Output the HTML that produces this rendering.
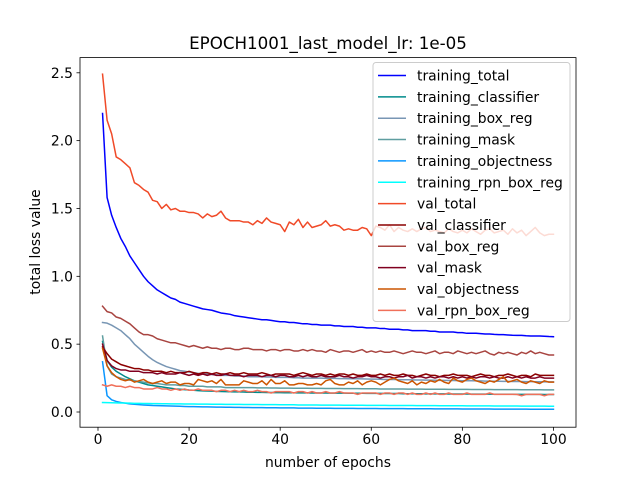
<!DOCTYPE html>
<html><head><meta charset="utf-8"><style>
html,body{margin:0;padding:0;background:#fff;}
svg{display:block;font-family:"DejaVu Sans","Liberation Sans",sans-serif;}
</style></head><body>
<svg id="chart" width="640" height="480" viewBox="0 0 640 480" xmlns="http://www.w3.org/2000/svg">
<rect x="0" y="0" width="640" height="480" fill="#fff"/>
<text x="328" y="49" font-size="16.7" text-anchor="middle">EPOCH1001_last_model_lr: 1e-05</text>
<text x="328" y="467" font-size="13.9" text-anchor="middle">number of epochs</text>
<text x="0" y="0" font-size="13.9" text-anchor="middle" transform="translate(40,242) rotate(-90)">total loss value</text>
<g id="plot"></g>
<g id="axes"></g>
<g id="legend"></g>
</svg>
<script>
const xTicks=[0,20,40,60,80,100];
const yTicks=[0.0,0.5,1.0,1.5,2.0,2.5];
const yTickLabels=["0.0","0.5","1.0","1.5","2.0","2.5"];
const seriesNames=["training_total","training_classifier","training_box_reg","training_mask","training_objectness","training_rpn_box_reg","val_total","val_classifier","val_box_reg","val_mask","val_objectness","val_rpn_box_reg"];
const seriesColors=["#0000ff","#008b8b","#7896b4","#5f9ea0","#0a96ff","#00ffff","#f04a28","#8b0000","#a84440","#800020","#cc5500","#f0705a"];
const training_total=[2.20,1.58,1.45,1.36,1.28,1.22,1.15,1.10,1.05,1.00,0.96,0.93,0.90,0.88,0.86,0.84,0.83,0.81,0.80,0.79,0.78,0.77,0.76,0.755,0.75,0.74,0.73,0.725,0.72,0.71,0.705,0.70,0.695,0.69,0.685,0.68,0.68,0.675,0.67,0.665,0.665,0.66,0.66,0.655,0.65,0.65,0.645,0.645,0.64,0.64,0.64,0.635,0.635,0.63,0.63,0.63,0.625,0.625,0.62,0.62,0.62,0.615,0.615,0.61,0.61,0.61,0.605,0.605,0.60,0.60,0.60,0.60,0.595,0.595,0.59,0.59,0.59,0.59,0.585,0.585,0.58,0.58,0.58,0.578,0.575,0.575,0.572,0.57,0.57,0.568,0.566,0.565,0.565,0.562,0.56,0.56,0.56,0.558,0.556,0.555];
const training_classifier=[0.52,0.38,0.33,0.30,0.28,0.26,0.245,0.23,0.22,0.21,0.20,0.195,0.19,0.185,0.18,0.175,0.17,0.168,0.165,0.162,0.16,0.158,0.156,0.155,0.154,0.152,0.151,0.15,0.149,0.148,0.148,0.147,0.146,0.146,0.145,0.145,0.144,0.144,0.143,0.143,0.142,0.142,0.142,0.141,0.141,0.141,0.14,0.14,0.14,0.14,0.139,0.139,0.139,0.139,0.138,0.138,0.138,0.138,0.137,0.137,0.137,0.137,0.136,0.136,0.136,0.136,0.135,0.135,0.135,0.135,0.135,0.134,0.134,0.134,0.134,0.134,0.133,0.133,0.133,0.133,0.133,0.132,0.132,0.132,0.132,0.132,0.131,0.131,0.131,0.131,0.131,0.13,0.13,0.13,0.13,0.13,0.13,0.129,0.129,0.129];
const training_box_reg=[0.66,0.655,0.64,0.62,0.60,0.57,0.54,0.50,0.47,0.44,0.41,0.385,0.365,0.35,0.335,0.325,0.315,0.305,0.30,0.295,0.29,0.285,0.28,0.28,0.275,0.275,0.27,0.27,0.27,0.265,0.265,0.265,0.26,0.26,0.26,0.26,0.258,0.258,0.255,0.255,0.255,0.255,0.252,0.252,0.25,0.25,0.25,0.25,0.25,0.248,0.248,0.248,0.246,0.246,0.245,0.245,0.245,0.244,0.243,0.242,0.242,0.241,0.24,0.24,0.24,0.239,0.238,0.238,0.237,0.236,0.236,0.235,0.235,0.234,0.233,0.233,0.232,0.232,0.231,0.23,0.23,0.23,0.229,0.229,0.228,0.228,0.227,0.227,0.226,0.226,0.225,0.225,0.225,0.224,0.224,0.223,0.223,0.222,0.222,0.222];
const training_mask=[0.56,0.34,0.28,0.26,0.25,0.24,0.235,0.23,0.225,0.22,0.215,0.21,0.21,0.205,0.20,0.20,0.20,0.195,0.195,0.19,0.19,0.19,0.19,0.185,0.185,0.185,0.185,0.18,0.18,0.18,0.18,0.18,0.18,0.18,0.178,0.178,0.178,0.177,0.177,0.176,0.176,0.176,0.175,0.175,0.175,0.175,0.174,0.174,0.174,0.173,0.173,0.173,0.173,0.172,0.172,0.172,0.172,0.171,0.171,0.171,0.171,0.17,0.17,0.17,0.17,0.17,0.17,0.169,0.169,0.169,0.169,0.168,0.168,0.168,0.168,0.168,0.167,0.167,0.167,0.167,0.167,0.166,0.166,0.166,0.166,0.166,0.165,0.165,0.165,0.165,0.165,0.165,0.164,0.164,0.164,0.164,0.164,0.163,0.163,0.163];
const training_objectness=[0.37,0.12,0.09,0.078,0.07,0.065,0.06,0.057,0.054,0.052,0.05,0.048,0.047,0.046,0.045,0.044,0.043,0.042,0.041,0.04,0.04,0.039,0.038,0.038,0.037,0.036,0.036,0.035,0.035,0.034,0.034,0.033,0.033,0.032,0.032,0.032,0.031,0.031,0.031,0.03,0.03,0.03,0.03,0.029,0.029,0.029,0.029,0.028,0.028,0.028,0.028,0.027,0.027,0.027,0.027,0.027,0.026,0.026,0.026,0.026,0.026,0.025,0.025,0.025,0.025,0.025,0.025,0.024,0.024,0.024,0.024,0.024,0.024,0.023,0.023,0.023,0.023,0.023,0.023,0.022,0.022,0.022,0.022,0.022,0.022,0.022,0.021,0.021,0.021,0.021,0.021,0.021,0.021,0.021,0.02,0.02,0.02,0.02,0.02,0.02];
const training_rpn_box_reg=[0.07,0.069,0.068,0.067,0.066,0.066,0.065,0.064,0.064,0.063,0.063,0.062,0.062,0.061,0.061,0.06,0.06,0.06,0.059,0.059,0.059,0.058,0.058,0.058,0.057,0.057,0.057,0.056,0.056,0.056,0.056,0.055,0.055,0.055,0.055,0.054,0.054,0.054,0.054,0.053,0.053,0.053,0.053,0.052,0.052,0.052,0.052,0.052,0.051,0.051,0.051,0.051,0.051,0.05,0.05,0.05,0.05,0.05,0.049,0.049,0.049,0.049,0.049,0.048,0.048,0.048,0.048,0.048,0.048,0.047,0.047,0.047,0.047,0.047,0.046,0.046,0.046,0.046,0.046,0.046,0.045,0.045,0.045,0.045,0.045,0.045,0.044,0.044,0.044,0.044,0.044,0.044,0.043,0.043,0.043,0.043,0.043,0.043,0.042,0.042];
const val_total=[2.49,2.15,2.05,1.88,1.86,1.83,1.80,1.69,1.67,1.64,1.62,1.56,1.55,1.50,1.53,1.49,1.50,1.48,1.48,1.47,1.47,1.46,1.43,1.46,1.44,1.45,1.48,1.43,1.41,1.41,1.41,1.40,1.40,1.38,1.41,1.39,1.43,1.40,1.39,1.38,1.33,1.40,1.38,1.42,1.36,1.40,1.36,1.37,1.38,1.41,1.37,1.38,1.37,1.34,1.35,1.34,1.34,1.36,1.35,1.30,1.37,1.36,1.34,1.38,1.33,1.36,1.34,1.33,1.35,1.33,1.35,1.36,1.33,1.34,1.33,1.32,1.35,1.33,1.32,1.34,1.32,1.35,1.33,1.31,1.34,1.35,1.32,1.33,1.34,1.31,1.35,1.32,1.34,1.30,1.33,1.36,1.32,1.30,1.31,1.31];
const val_classifier=[0.48,0.43,0.39,0.37,0.35,0.34,0.33,0.32,0.32,0.31,0.31,0.30,0.30,0.30,0.29,0.30,0.29,0.29,0.29,0.30,0.29,0.28,0.29,0.29,0.28,0.29,0.28,0.28,0.29,0.28,0.28,0.29,0.28,0.28,0.28,0.29,0.28,0.27,0.28,0.28,0.28,0.28,0.27,0.28,0.29,0.28,0.27,0.28,0.28,0.27,0.28,0.27,0.28,0.28,0.27,0.28,0.27,0.27,0.28,0.27,0.27,0.28,0.27,0.28,0.27,0.27,0.28,0.27,0.27,0.26,0.27,0.28,0.27,0.27,0.26,0.27,0.27,0.28,0.27,0.27,0.27,0.26,0.27,0.28,0.27,0.27,0.26,0.27,0.27,0.28,0.27,0.26,0.27,0.27,0.26,0.28,0.27,0.27,0.27,0.27];
const val_box_reg=[0.78,0.74,0.73,0.70,0.69,0.67,0.65,0.62,0.59,0.57,0.57,0.56,0.54,0.53,0.52,0.51,0.51,0.50,0.49,0.48,0.49,0.48,0.47,0.48,0.47,0.47,0.46,0.47,0.47,0.46,0.46,0.47,0.47,0.46,0.46,0.46,0.45,0.46,0.46,0.45,0.46,0.46,0.45,0.45,0.46,0.45,0.46,0.45,0.45,0.44,0.46,0.45,0.44,0.45,0.45,0.44,0.45,0.46,0.44,0.45,0.44,0.45,0.44,0.44,0.45,0.44,0.43,0.44,0.45,0.44,0.44,0.43,0.44,0.45,0.43,0.44,0.44,0.43,0.45,0.44,0.43,0.44,0.43,0.44,0.45,0.43,0.42,0.44,0.43,0.44,0.43,0.42,0.44,0.43,0.45,0.43,0.44,0.43,0.42,0.42];
const val_mask=[0.50,0.38,0.34,0.32,0.31,0.31,0.30,0.30,0.30,0.29,0.29,0.29,0.28,0.29,0.28,0.28,0.28,0.29,0.28,0.27,0.28,0.27,0.28,0.27,0.28,0.27,0.27,0.28,0.27,0.27,0.27,0.26,0.27,0.27,0.27,0.26,0.27,0.27,0.26,0.27,0.27,0.26,0.26,0.27,0.26,0.27,0.26,0.26,0.27,0.26,0.26,0.26,0.27,0.26,0.26,0.25,0.26,0.26,0.27,0.26,0.26,0.25,0.26,0.26,0.25,0.26,0.26,0.27,0.25,0.26,0.26,0.25,0.26,0.25,0.26,0.26,0.25,0.26,0.25,0.26,0.25,0.26,0.25,0.26,0.26,0.25,0.26,0.25,0.25,0.26,0.25,0.26,0.25,0.26,0.25,0.25,0.26,0.25,0.25,0.25];
const val_objectness=[0.47,0.34,0.29,0.26,0.24,0.23,0.24,0.22,0.23,0.24,0.22,0.21,0.22,0.23,0.21,0.22,0.22,0.20,0.21,0.21,0.20,0.24,0.23,0.22,0.23,0.21,0.24,0.20,0.20,0.20,0.20,0.23,0.22,0.21,0.21,0.23,0.20,0.24,0.21,0.21,0.23,0.20,0.20,0.21,0.21,0.20,0.20,0.21,0.20,0.23,0.24,0.21,0.20,0.20,0.22,0.21,0.23,0.20,0.22,0.23,0.22,0.20,0.22,0.24,0.25,0.23,0.22,0.21,0.23,0.20,0.22,0.21,0.23,0.22,0.24,0.22,0.21,0.25,0.23,0.22,0.24,0.25,0.23,0.22,0.21,0.23,0.22,0.24,0.26,0.22,0.23,0.24,0.22,0.21,0.23,0.22,0.21,0.23,0.22,0.22];
const val_rpn_box_reg=[0.20,0.19,0.20,0.19,0.19,0.18,0.19,0.18,0.18,0.17,0.17,0.17,0.18,0.17,0.17,0.16,0.17,0.16,0.17,0.16,0.16,0.17,0.16,0.16,0.16,0.15,0.16,0.16,0.15,0.16,0.15,0.16,0.15,0.15,0.16,0.15,0.15,0.14,0.15,0.15,0.15,0.15,0.14,0.15,0.15,0.14,0.15,0.14,0.14,0.15,0.14,0.14,0.15,0.14,0.14,0.14,0.13,0.14,0.14,0.14,0.14,0.13,0.14,0.14,0.13,0.14,0.14,0.13,0.14,0.13,0.13,0.14,0.13,0.14,0.13,0.13,0.14,0.13,0.13,0.13,0.14,0.13,0.13,0.13,0.13,0.14,0.13,0.13,0.13,0.13,0.13,0.13,0.12,0.13,0.13,0.13,0.13,0.12,0.13,0.13];
const seriesData=[training_total,training_classifier,training_box_reg,training_mask,training_objectness,training_rpn_box_reg,val_total,val_classifier,val_box_reg,val_mask,val_objectness,val_rpn_box_reg];

const NS="http://www.w3.org/2000/svg";
const L=80,R=576,T=57.6,B=427.2;
const xMin=-3.95,xMax=104.95,yMin=-0.112,yMax=2.612;
function xs(v){return L+(v-xMin)/(xMax-xMin)*(R-L);}
function ys(v){return B-(v-yMin)/(yMax-yMin)*(B-T);}
function mk(tag,attrs,parent){const e=document.createElementNS(NS,tag);for(const k in attrs)e.setAttribute(k,attrs[k]);parent.appendChild(e);return e;}

const plot=document.getElementById('plot');
seriesData.forEach((arr,i)=>{
  const pts=arr.map((v,j)=>xs(j+1).toFixed(2)+','+ys(v).toFixed(2)).join(' ');
  const pl=mk('polyline',{points:pts,fill:'none',stroke:seriesColors[i],'stroke-width':1.5,'stroke-linejoin':'round','stroke-linecap':'square'},plot);
  
  
});

const axes=document.getElementById('axes');
const frame=mk('rect',{x:L,y:T,width:R-L,height:B-T,fill:'none',stroke:'#000','stroke-width':0.8},axes);


xTicks.forEach(t=>{
  const x=xs(t);
  const tk=mk('line',{x1:x,x2:x,y1:B,y2:B+3.5,stroke:'#000','stroke-width':0.8},axes);
  
  
  const tx=mk('text',{x:x,y:B+17,'font-size':13.9,'text-anchor':'middle'},axes);
  tx.textContent=String(t);
  
  
});
yTicks.forEach((t,i)=>{
  const y=ys(t);
  const tk=mk('line',{x1:L-3.5,x2:L,y1:y,y2:y,stroke:'#000','stroke-width':0.8},axes);
  
  
  const tx=mk('text',{x:L-7,y:y+5,'font-size':13.9,'text-anchor':'end'},axes);
  tx.textContent=yTickLabels[i];
  
  
});

const lg=document.getElementById('legend');
const box=mk('rect',{x:373,y:62.5,width:197,height:259,rx:3,fill:'#fff','fill-opacity':0.8,stroke:'#cccccc','stroke-width':1},lg);


seriesNames.forEach((n,i)=>{
  const y=75.5+i*21.35;
  const g=mk('g',{},lg);
  
  
  mk('line',{x1:378,x2:406,y1:y,y2:y,stroke:seriesColors[i],'stroke-width':1.5},g);
  const t=mk('text',{x:417,y:y+5,'font-size':13.9},g);
  t.textContent=n;
});
</script>
</body></html>
